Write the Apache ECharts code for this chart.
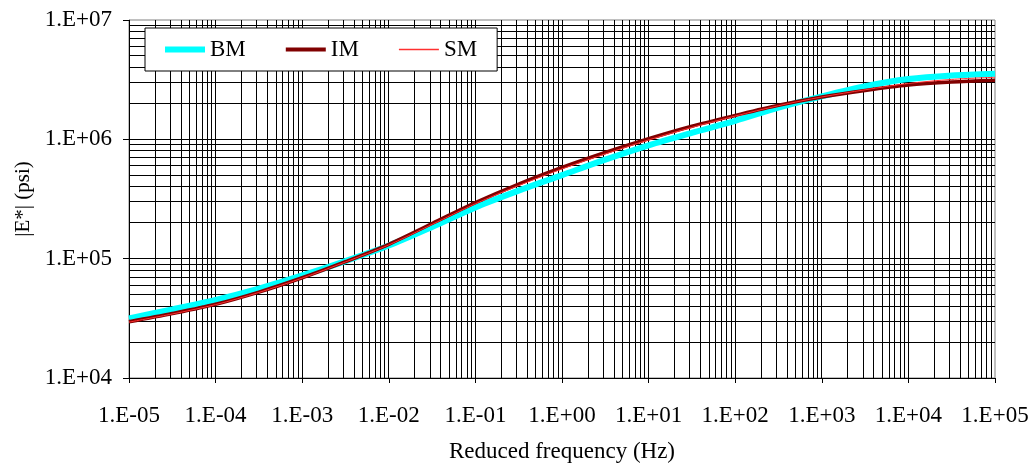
<!DOCTYPE html>
<html>
<head>
<meta charset="utf-8">
<script src="https://cdn.jsdelivr.net/npm/echarts@6/dist/echarts.min.js"></script>
<style>
html,body{margin:0;padding:0;background:#fff;}
#chart{width:1035px;height:468px;}
</style>
</head>
<body>
<div id="chart"></div>
<script>
// Reduced frequency (Hz)
const frequency = [0.00001, 0.0000316, 0.0001, 0.000316, 0.001, 0.00316, 0.01, 0.0316, 0.1, 0.316,
  1, 3.16, 10, 31.6, 100, 316, 1000, 3160, 10000, 31600, 100000];
// |E*| (psi)
const bmValues = [31600, 37600, 45200, 56200, 72400, 95500, 128800, 184100, 269000, 371500,
  501000, 676000, 891000, 1135000, 1429000, 1841000, 2291000, 2786000, 3199000, 3428000, 3548000];
const imValues = [29600, 34700, 41500, 52500, 69200, 94400, 132000, 197000, 295000, 422000,
  581000, 776000, 1012000, 1288000, 1585000, 1928000, 2265000, 2570000, 2851000, 3020000, 3126000];
const smValues = [29400, 34400, 41200, 52100, 68700, 93800, 130300, 193600, 288400, 410200,
  564900, 755100, 988600, 1259000, 1567000, 1914000, 2265000, 2600000, 2938000, 3177000, 3311000];
const seriesNames = ['BM', 'IM', 'SM'];
const seriesColors = ['#00ffff', '#800000', '#ff3030'];
const xTicks = [1e-5, 1e-4, 1e-3, 1e-2, 1e-1, 1e0, 1e1, 1e2, 1e3, 1e4, 1e5];
const xTickLabels = ['1.E-05','1.E-04','1.E-03','1.E-02','1.E-01','1.E+00','1.E+01','1.E+02','1.E+03','1.E+04','1.E+05'];
const yTicks = [1e4, 1e5, 1e6, 1e7];
const yTickLabels = ['1.E+04','1.E+05','1.E+06','1.E+07'];
const xTitle = 'Reduced frequency (Hz)';
const yTitle = '|E*| (psi)';

function labelFor(ticks, labels, v) {
  let best = 0, bd = Infinity;
  for (let i = 0; i < ticks.length; i++) {
    const d = Math.abs(Math.log10(ticks[i]) - Math.log10(v));
    if (d < bd) { bd = d; best = i; }
  }
  return bd < 0.01 ? labels[best] : '';
}

const xMin = xTicks[0], xMax = xTicks[xTicks.length - 1];
const yMin = yTicks[0], yMax = yTicks[yTicks.length - 1];

// grid lines (major + minor at 2..9 x 10^k): [x, y, orientation]
const gridLines = [];
for (let k = -5; k < 5; k++) for (let m = 1; m <= 9; m++) gridLines.push([m * Math.pow(10, k), yMin, 0]);
for (let k = 4; k < 7; k++) for (let m = 1; m <= 9; m++) gridLines.push([xMin, m * Math.pow(10, k), 1]);

const font = '"Liberation Serif", "Times New Roman", serif';
const chart = echarts.init(document.getElementById('chart'), null, { renderer: 'canvas' });
const toPairs = vals => frequency.map((f, i) => [f, vals[i]]);
const crisp = v => Math.round(v - 0.5) + 0.5;

function renderGridLine(params, api) {
  const orient = api.value(2);
  let shape;
  if (orient === 0) {
    const x = api.value(0);
    const p1 = api.coord([x, yMin]), p2 = api.coord([x, yMax]);
    const cx = crisp(p1[0]);
    shape = { x1: cx, y1: p1[1], x2: cx, y2: p2[1] };
  } else {
    const y = api.value(1);
    const p1 = api.coord([xMin, y]), p2 = api.coord([xMax, y]);
    const cy = crisp(p1[1]);
    shape = { x1: p1[0], y1: cy, x2: p2[0], y2: cy };
  }
  return {
    type: 'line',
    shape: shape,
    style: { stroke: '#000', lineWidth: 1 },
    silent: true
  };
}

chart.setOption({
  animation: false,
  backgroundColor: '#fff',
  grid: { left: 129, right: 40, top: 20, bottom: 88, show: true, borderColor: '#808080', borderWidth: 1 },
  legend: {
    data: [
      { name: seriesNames[0], icon: 'path://M0,0 H40 V6 H0 Z', itemStyle: { color: seriesColors[0], borderWidth: 0 } },
      { name: seriesNames[1], icon: 'path://M0,0 H40 V4 H0 Z', itemStyle: { color: seriesColors[1], borderWidth: 0 } },
      { name: seriesNames[2], icon: 'path://M0,0 H40 V1.5 H0 Z', itemStyle: { color: seriesColors[2], borderWidth: 0 } }
    ],
    left: 145, top: 28,
    padding: [10, 20, 10, 20],
    itemGap: 40,
    itemWidth: 40,
    itemHeight: 12,
    backgroundColor: '#fff',
    borderColor: '#000',
    borderWidth: 1,
    borderRadius: 0,
    textStyle: { fontFamily: font, fontSize: 23, color: '#000' }
  },
  xAxis: {
    type: 'log', logBase: 10, min: xMin, max: xMax, interval: 1,
    name: xTitle, nameLocation: 'middle', nameGap: 62,
    nameTextStyle: { fontFamily: font, fontSize: 23, color: '#000' },
    axisLine: { show: true, onZero: false, lineStyle: { color: '#000', width: 1 } },
    axisTick: { show: true, inside: false, length: 5, lineStyle: { color: '#000' } },
    axisLabel: { fontFamily: font, fontSize: 23, color: '#000', margin: 26,
      formatter: v => labelFor(xTicks, xTickLabels, v) },
    splitLine: { show: false },
    minorTick: { show: false }, minorSplitLine: { show: false }
  },
  yAxis: {
    type: 'log', logBase: 10, min: yMin, max: yMax, interval: 1,
    name: yTitle, nameLocation: 'middle', nameGap: 94, nameRotate: 90,
    nameTextStyle: { fontFamily: font, fontSize: 21, color: '#000' },
    axisLine: { show: true, onZero: false, lineStyle: { color: '#808080', width: 1 } },
    axisTick: { show: true, inside: false, length: 6, lineStyle: { color: '#000' } },
    axisLabel: { fontFamily: font, fontSize: 23, color: '#000', margin: 17,
      formatter: v => labelFor(yTicks, yTickLabels, v) },
    splitLine: { show: false },
    minorTick: { show: false }, minorSplitLine: { show: false }
  },
  series: [
    {
      name: 'grid', type: 'custom', data: gridLines, z: 1, silent: true,
      renderItem: renderGridLine, clip: false,
      encode: { x: 0, y: 1 }
    },
    {
      name: seriesNames[0], type: 'line', data: toPairs(bmValues), smooth: 0.3, symbol: 'none', z: 3,
      lineStyle: { color: seriesColors[0], width: 6 }, itemStyle: { color: seriesColors[0] }
    },
    {
      name: seriesNames[1], type: 'line', data: toPairs(imValues), smooth: 0.3, symbol: 'none', z: 4,
      lineStyle: { color: seriesColors[1], width: 3.5 }, itemStyle: { color: seriesColors[1] }
    },
    {
      name: seriesNames[2], type: 'line', data: toPairs(smValues), smooth: 0.3, symbol: 'none', z: 5,
      lineStyle: { color: seriesColors[2], width: 1 }, itemStyle: { color: seriesColors[2] }
    }
  ]
});
</script>
</body>
</html>
